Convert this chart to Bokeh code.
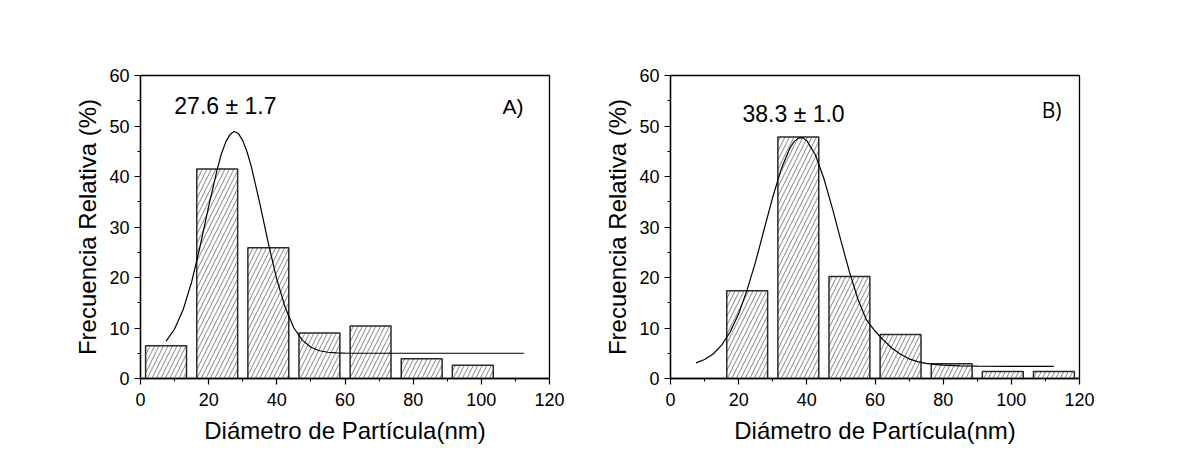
from bokeh.plotting import figure
from bokeh.layouts import row
from bokeh.models import Range1d, FixedTicker, Label
from bokeh.embed import file_html
from bokeh.resources import INLINE

# ---------------- data ----------------
x_ticks = [0, 20, 40, 60, 80, 100, 120]
x_minor = [10, 30, 50, 70, 90, 110]
y_ticks = [0, 10, 20, 30, 40, 50, 60]
y_minor = [5, 15, 25, 35, 45, 55]

a_centers = [7.5, 22.5, 37.5, 52.5, 67.5, 82.5, 97.5]
a_freq = [6.5, 41.5, 25.9, 9.0, 10.4, 3.9, 2.6]
a_fit_x = [7.5, 10, 12.5, 15, 17.5, 20, 22.5, 23.75, 25, 26.25, 27.5, 28.75, 30,
           31.25, 32.5, 35, 37.5, 40, 42.5, 45, 47.5, 50, 52.5, 55, 57.5, 60,
           70, 80, 90, 100, 112.5]
a_fit_y = [7.4, 9.8, 13.6, 19.1, 26.2, 34.1, 41.4, 44.5, 46.8, 48.3, 48.9, 48.5, 47.1,
           44.9, 42.0, 34.7, 26.8, 19.6, 14.0, 10.0, 7.6, 6.2, 5.5, 5.2, 5.07, 5.03,
           5.0, 5.0, 5.0, 5.0, 5.0]
a_text = "27.6 ± 1.7"
a_tag = "A)"

b_centers = [22.5, 37.5, 52.5, 67.5, 82.5, 97.5, 112.5]
b_freq = [17.4, 47.8, 20.2, 8.7, 2.9, 1.4, 1.4]
b_fit_x = [7.5, 10, 12.5, 15, 17.5, 20, 22.5, 25, 27.5, 30, 32.5, 35, 36.25, 37.5,
           38.75, 40, 42.5, 45, 47.5, 50, 52.5, 55, 57.5, 60, 62.5, 65, 67.5, 70,
           72.5, 75, 77.5, 80, 85, 90, 100, 112.5]
b_fit_y = [3.1, 3.75, 4.85, 6.6, 9.2, 12.8, 17.6, 23.2, 29.6, 35.9, 41.5, 45.6, 46.9,
           47.6, 47.7, 47.1, 44.3, 39.6, 33.7, 27.3, 21.1, 15.7, 11.6, 9.4, 7.6, 6.0,
           4.8, 3.9, 3.35, 3.0, 2.8, 2.65, 2.5, 2.45, 2.4, 2.4]
b_text = "38.3 ± 1.0"
b_tag = "B)"

x_label = "Diámetro de Partícula(nm)"
y_label = "Frecuencia Relativa (%)"

FONT = "Liberation Sans"


def make_panel(centers, freq, fx, fy, text, tag, text_pos, tag_pos, tag_font,
               border_left, border_right):
    p = figure(frame_width=409, frame_height=303,
               x_range=Range1d(0, 120), y_range=Range1d(0, 60),
               output_backend="svg", toolbar_location=None,
               min_border_left=border_left, min_border_right=border_right,
               min_border_top=75, min_border_bottom=70,
               background_fill_color="white", border_fill_color="white")
    p.xgrid.grid_line_color = None
    p.ygrid.grid_line_color = None
    p.outline_line_color = "black"
    p.outline_line_width = 1.3
    p.outline_line_alpha = 1.0

    p.xaxis.ticker = FixedTicker(ticks=x_ticks, minor_ticks=x_minor)
    p.yaxis.ticker = FixedTicker(ticks=y_ticks, minor_ticks=y_minor)
    p.xaxis.axis_label = x_label
    p.yaxis.axis_label = y_label
    for ax in (p.xaxis[0], p.yaxis[0]):
        ax.axis_line_color = "black"
        ax.axis_line_width = 1.3
        ax.major_tick_line_color = "black"
        ax.major_tick_line_width = 1.2
        ax.minor_tick_line_color = "black"
        ax.minor_tick_line_width = 1.0
        ax.major_tick_in = 0
        ax.major_tick_out = 6
        ax.minor_tick_in = 0
        ax.minor_tick_out = 3
        ax.major_label_text_font = FONT
        ax.major_label_text_font_size = "18px"
        ax.major_label_text_color = "black"
        ax.axis_label_text_font = FONT
        ax.axis_label_text_font_size = "24px"
        ax.axis_label_text_font_style = "normal"
        ax.axis_label_text_color = "black"
    p.yaxis.major_label_standoff = 5
    p.yaxis.axis_label_standoff = 5
    p.xaxis.major_label_standoff = 8
    p.xaxis.axis_label_standoff = 8

    p.vbar(x=centers, width=12, top=freq, bottom=0,
           fill_color="white", line_color="#2a2a2a", line_width=1.5,
           hatch_pattern="/", hatch_color="#666666", hatch_scale=9,
           hatch_weight=0.8)
    p.line(fx, fy, line_color="black", line_width=1.2)

    p.add_layout(Label(x=text_pos[0], y=text_pos[1], text=text,
                       text_align="center", text_baseline="middle",
                       text_font=FONT, text_font_size="23px",
                       text_color="black"))
    p.add_layout(Label(x=tag_pos[0], y=tag_pos[1], text=tag,
                       text_align="center", text_baseline="middle",
                       text_font=tag_font, text_font_size="21px",
                       text_color="black"))
    return p


pa = make_panel(a_centers, a_freq, a_fit_x, a_fit_y, a_text, a_tag,
                (24.9, 53.9), (109.3, 53.9), FONT, 140, 49)
pb = make_panel(b_centers, b_freq, b_fit_x, b_fit_y, b_text, b_tag,
                (36.1, 52.4), (111.8, 53.1), "Open Sans", 72, 91)

layout = row(pa, pb)
open("out.html", "w").write(file_html(layout, INLINE))
